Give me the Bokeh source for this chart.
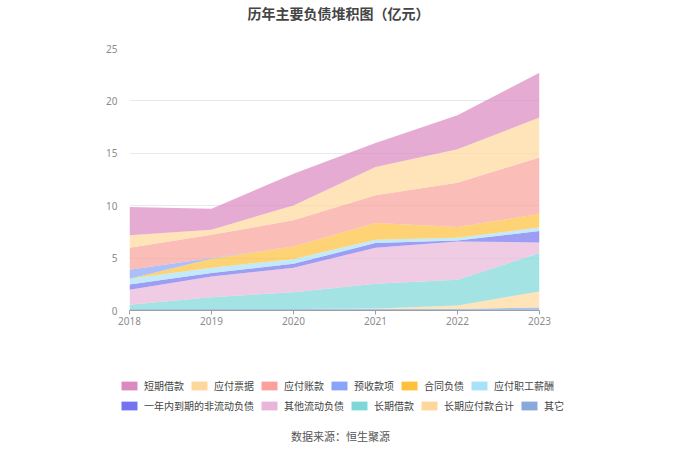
from bokeh.plotting import figure
from bokeh.models import ColumnDataSource, Legend, LegendItem, Label, FixedTicker, Range1d
from bokeh.layouts import column
from bokeh.embed import file_html
from bokeh.resources import INLINE

years = [2018, 2019, 2020, 2021, 2022, 2023]
year_labels = ["2018", "2019", "2020", "2021", "2022", "2023"]
y_ticks = [0, 5, 10, 15, 20, 25]

# series values (亿元)
qita = [0.15, 0.15, 0.15, 0.15, 0.15, 0.29]
changqi_yingfu = [0.0, 0.0, 0.0, 0.05, 0.33, 1.53]
changqi_jiekuan = [0.40, 1.12, 1.60, 2.35, 2.45, 3.66]
qita_liudong = [1.42, 1.98, 2.33, 3.44, 3.66, 1.02]
yinian_daoqi = [0.51, 0.32, 0.38, 0.44, 0.10, 1.08]
zhigong_xinchou = [0.55, 0.51, 0.44, 0.32, 0.25, 0.35]
hetong_fuzhai = [0.0, 0.86, 1.21, 1.59, 1.02, 1.27]
yushou_kuanxiang = [0.86, 0.06, 0.0, 0.0, 0.0, 0.0]
yingfu_zhangkuan = [2.10, 2.23, 2.49, 2.65, 4.24, 5.39]
yingfu_piaoju = [1.18, 0.48, 1.43, 2.70, 3.18, 3.82]
duanqi_jiekuan = [2.70, 2.00, 3.03, 2.30, 3.25, 4.27]

names = ["短期借款", "应付票据", "应付账款", "预收款项", "合同负债", "应付职工薪酬",
         "一年内到期的非流动负债", "其他流动负债", "长期借款", "长期应付款合计", "其它"]
values = [duanqi_jiekuan, yingfu_piaoju, yingfu_zhangkuan, yushou_kuanxiang, hetong_fuzhai,
          zhigong_xinchou, yinian_daoqi, qita_liudong, changqi_jiekuan, changqi_yingfu, qita]
colors = ["#DC88C1", "#FED89A", "#F9A19A", "#89A4F9", "#FEC13A", "#A8E1FA",
          "#7474F0", "#E8B6D8", "#7ED7D7", "#FED89A", "#88A9D9"]

data = {"x": years}
for n, v in zip(names, values):
    data[n] = v
source = ColumnDataSource(data)

W = 664


def strip(h):
    f = figure(width=W, height=h, output_backend="svg", toolbar_location=None,
               x_range=Range1d(0, 1), y_range=Range1d(0, 1),
               x_axis_location=None, y_axis_location=None, min_border=0,
               frame_align=False)
    f.outline_line_color = None
    f.xgrid.visible = False
    f.ygrid.visible = False
    return f


# --- title strip ---
top = strip(40)
top.add_layout(Label(x=338, y=28, x_units="screen", y_units="screen",
                     text="历年主要负债堆积图（亿元）", text_align="center",
                     text_baseline="middle", text_font="Noto Sans CJK SC",
                     text_font_size="14px", text_font_style="bold", text_color="#444444"))

# --- main chart ---
p = figure(width=W, height=290, output_backend="svg", toolbar_location=None,
           x_range=Range1d(2018, 2023), y_range=Range1d(0, 25),
           min_border_left=129, min_border_right=125, min_border_top=8, min_border_bottom=20,
           frame_align=False)
p.outline_line_color = None

stack_names = names[::-1]
stack_colors = colors[::-1]
p.varea_stack(stackers=stack_names, x="x", color=stack_colors, fill_alpha=0.7, source=source)

p.xgrid.grid_line_color = None
p.ygrid.grid_line_color = "#E6E9F2"
p.ygrid.ticker = FixedTicker(ticks=y_ticks)
p.yaxis.ticker = FixedTicker(ticks=y_ticks)
p.xaxis.ticker = FixedTicker(ticks=years)
p.xaxis.major_label_overrides = {y: l for y, l in zip(years, year_labels)}
p.yaxis.axis_line_color = None
p.yaxis.major_tick_line_color = None
p.yaxis.minor_tick_line_color = None
p.yaxis.major_label_standoff = 6
p.xaxis.axis_line_color = "#9A9FA8"
p.xaxis.major_tick_line_color = "#9A9FA8"
p.xaxis.major_tick_in = 0
p.xaxis.major_tick_out = 4
p.xaxis.minor_tick_line_color = None
p.xaxis.major_label_standoff = 2
for ax in (p.xaxis, p.yaxis):
    ax.major_label_text_font_size = "10px"
    ax.major_label_text_color = "#8C8C8C"
    ax.major_label_text_font = "Noto Sans"

# --- legend + source strip ---
bot = strip(114)
items = []
for n, c in zip(names, colors):
    # placeholder glyph outside the visible range: only its legend swatch shows
    r = bot.rect(x=[-10], y=[-10], width=1, height=1, fill_color=c, line_color=None)
    items.append(LegendItem(label=n, renderers=[r]))


def make_legend(its, y):
    lg = Legend(items=its, orientation="horizontal", location=(119, y),
                glyph_width=20, glyph_height=11, label_height=11, label_standoff=5,
                spacing=5, padding=0, margin=0, border_line_color=None,
                background_fill_alpha=0, label_text_font="Noto Sans CJK SC",
                label_text_font_size="10px", label_text_color="#444444")
    bot.add_layout(lg, "center")


make_legend(items[:6], 51)
make_legend(items[6:], 31)

bot.add_layout(Label(x=340, y=9, x_units="screen", y_units="screen",
                     text="数据来源：恒生聚源", text_align="center",
                     text_baseline="middle", text_font="Noto Sans CJK SC",
                     text_font_size="11px", text_color="#555555"))

layout = column(top, p, bot, spacing=0)
open("out.html", "w").write(file_html(layout, INLINE))
